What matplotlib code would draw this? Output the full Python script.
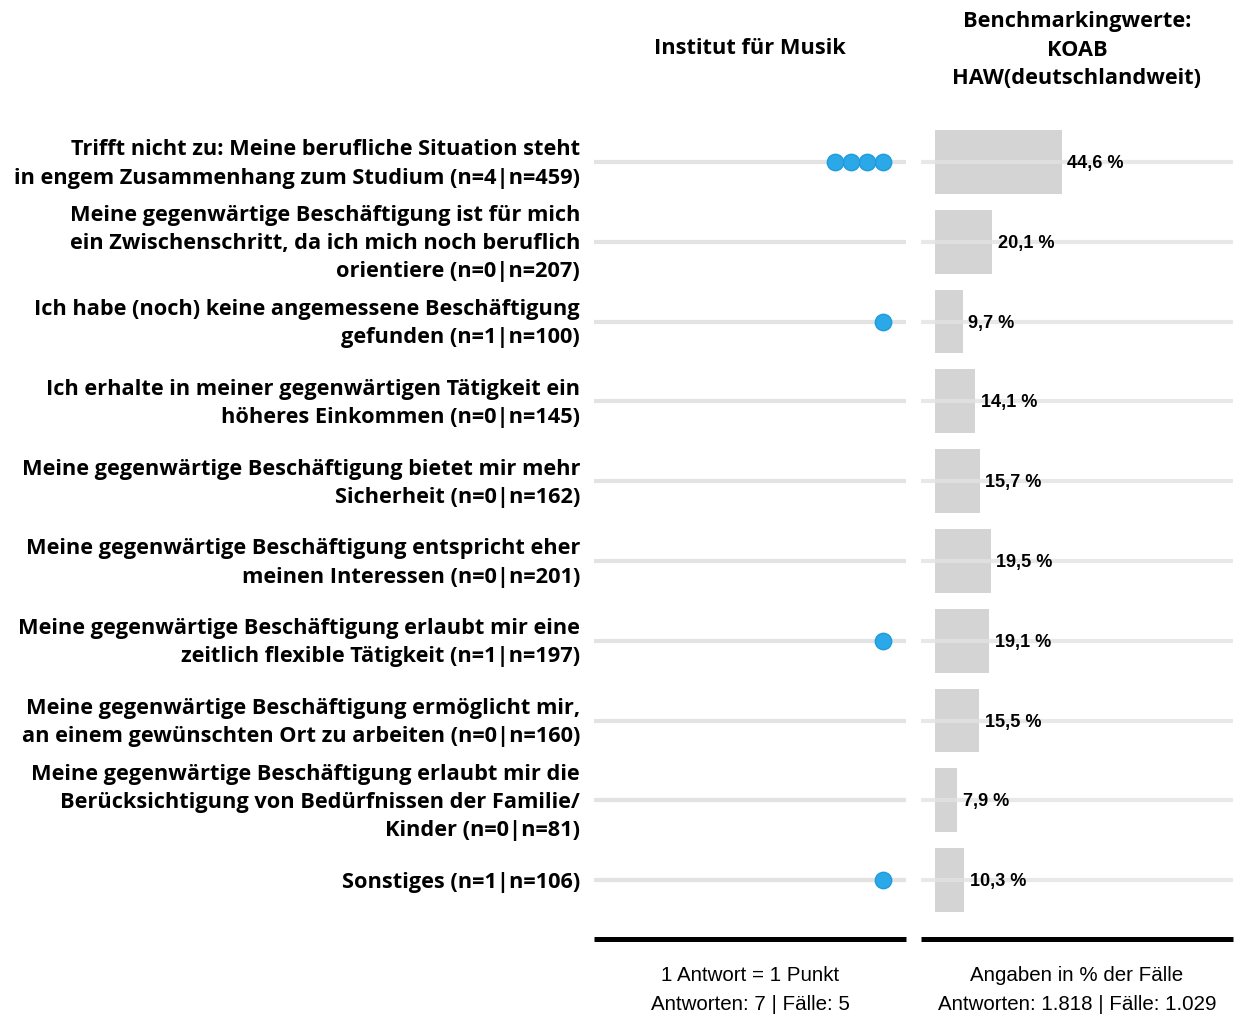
import matplotlib
matplotlib.use("Agg")
import matplotlib.pyplot as plt

labels = [
    "Trifft nicht zu: Meine berufliche Situation steht\nin engem Zusammenhang zum Studium (n=4|n=459)",
    "Meine gegenwärtige Beschäftigung ist für mich\nein Zwischenschritt, da ich mich noch beruflich\norientiere (n=0|n=207)",
    "Ich habe (noch) keine angemessene Beschäftigung\ngefunden (n=1|n=100)",
    "Ich erhalte in meiner gegenwärtigen Tätigkeit ein\nhöheres Einkommen (n=0|n=145)",
    "Meine gegenwärtige Beschäftigung bietet mir mehr\nSicherheit (n=0|n=162)",
    "Meine gegenwärtige Beschäftigung entspricht eher\nmeinen Interessen (n=0|n=201)",
    "Meine gegenwärtige Beschäftigung erlaubt mir eine\nzeitlich flexible Tätigkeit (n=1|n=197)",
    "Meine gegenwärtige Beschäftigung ermöglicht mir,\nan einem gewünschten Ort zu arbeiten (n=0|n=160)",
    "Meine gegenwärtige Beschäftigung erlaubt mir die\nBerücksichtigung von Bedürfnissen der Familie/\nKinder (n=0|n=81)",
    "Sonstiges (n=1|n=106)",
]
counts = [4, 0, 1, 0, 0, 0, 1, 0, 0, 1]
bench_pct = [44.6, 20.1, 9.7, 14.1, 15.7, 19.5, 19.1, 15.5, 7.9, 10.3]

left_title = "Institut für Musik"
right_title = "Benchmarkingwerte:\nKOAB\nHAW(deutschlandweit)"
left_foot = "1 Antwort = 1 Punkt\nAntworten: 7 | Fälle: 5"
right_foot = "Angaben in % der Fälle\nAntworten: 1.818 | Fälle: 1.029"

W, H = 1242, 1015
fig = plt.figure(figsize=(W / 100, H / 100), dpi=100)

LABEL_FONT = ["Open Sans", "DejaVu Sans"]
NUM_FONT = ["Liberation Sans", "DejaVu Sans"]

def fx(px):
    return px / W

def fy(py):
    return 1 - py / H

n = len(labels)
top_px, bot_px = 122, 920
axL = fig.add_axes([fx(594), fy(bot_px), fx(906) - fx(594), fy(top_px) - fy(bot_px)])
axR = fig.add_axes([fx(921), fy(bot_px), fx(1233) - fx(921), fy(top_px) - fy(bot_px)])

for ax in (axL, axR):
    ax.set_ylim(n - 0.5, -0.5)
    ax.axis("off")

# left: dots
axL.set_xlim(-18.06, 1.44)
for i, c in enumerate(counts):
    axL.plot([-18.06, 1.44], [i, i], color="#e3e3e3", lw=3, zorder=1, solid_capstyle="butt")
    if c > 0:
        xs = [-k for k in range(c)]
        axL.plot(xs, [i] * c, "o", ms=11.8, mfc="#2BA8E8", mec="#1F9BDB", mew=1, zorder=3, ls="none")

# right: bars
axR.set_xlim(-4.91, 104.6)
axR.barh(range(n), bench_pct, left=0, height=0.8, color="#d4d4d4", zorder=1)
for i, v in enumerate(bench_pct):
    axR.plot([-4.91, 104.6], [i, i], color="#e3e3e3", lw=3, zorder=2, alpha=0.8, solid_capstyle="butt")
    axR.text(v + 1.9, i + 0.02, f"{v:.1f} %".replace(".", ","), va="center", ha="left",
             fontsize=13.1, fontweight="bold", family=NUM_FONT, zorder=3)

# row labels
for i, lab in enumerate(labels):
    y_px = 164 + i * 79.8
    fig.text(fx(580), fy(y_px), lab, ha="right", va="center", fontsize=15.65, fontweight="bold",
             family=LABEL_FONT, linespacing=1.44)

# titles
fig.text(fx(750), fy(49), left_title, ha="center", va="center", fontsize=15.65, fontweight="bold",
         family=LABEL_FONT)
fig.text(fx(1077), fy(50), right_title, ha="center", va="center", fontsize=15.65, fontweight="bold",
         family=LABEL_FONT, linespacing=1.46)

# bottom thick lines
fig.add_artist(plt.Line2D([fx(594), fx(906)], [fy(939), fy(939)], color="black", lw=3.6,
                          transform=fig.transFigure, solid_capstyle="butt"))
fig.add_artist(plt.Line2D([fx(921), fx(1233)], [fy(939), fy(939)], color="black", lw=3.6,
                          transform=fig.transFigure, solid_capstyle="butt"))

fig.text(fx(750), fy(990), left_foot, ha="center", va="center", fontsize=14.8, family=NUM_FONT,
         linespacing=1.72)
fig.text(fx(1077), fy(990), right_foot, ha="center", va="center", fontsize=14.8, family=NUM_FONT,
         linespacing=1.72)

fig.savefig("out.png", dpi=100, facecolor="white")
